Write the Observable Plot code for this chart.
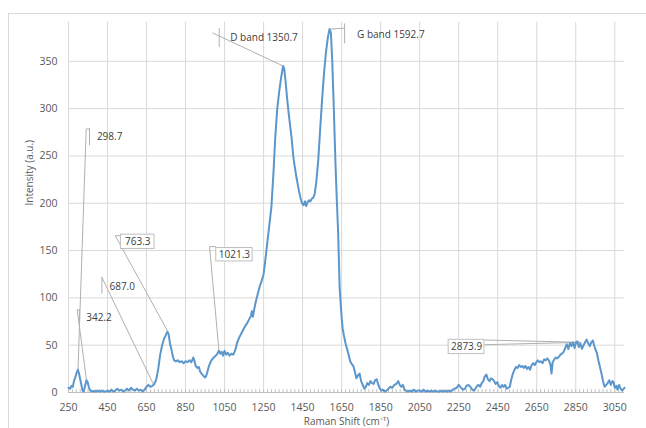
<!DOCTYPE html>
<html><head><meta charset="utf-8">
<script src="https://cdn.jsdelivr.net/npm/d3@7"></script>
<script src="https://cdn.jsdelivr.net/npm/@observablehq/plot@0.6"></script>
<style>
html,body{margin:0;padding:0;background:#fff;overflow:hidden;}
#wrap{position:relative;width:646px;height:428px;overflow:hidden;}
#border{position:absolute;left:8px;top:13px;width:700px;height:500px;border:1px solid #d9d9d9;box-sizing:border-box;}
#chart{position:absolute;left:0;top:0;}
</style></head><body>
<div id="wrap"><div id="border"></div><div id="chart"></div></div>
<script>
// Raman spectrum
const shift = [250,258,265,272,278,285,292,298,304,310,316,322,328,334,342,348,355,362,370,380,390,400,
410,420,430,440,450,460,470,480,490,500,510,520,530,540,550,560,570,580,590,600,610,620,630,640,650,660,670,680,690,
700,710,720,730,740,748,756,763,770,778,785,792,800,810,820,830,840,850,860,870,880,890,896,902,910,918,925,932,940,948,955,962,970,980,990,
1000,1010,1021,1028,1035,1042,1050,1058,1066,1075,1085,1095,1105,1115,1125,1135,1145,1155,1165,1175,1185,1190,1195,1202,1210,1220,1230,1240,1250,1260,1270,1280,1290,
1300,1310,1320,1330,1340,1350,1356,1362,1370,1378,1386,1394,1402,1410,1418,1425,1432,1440,1447,1455,1462,1468,1475,1482,1490,1498,1505,1512,1520,1530,1540,1550,1560,1570,1580,1588,1595,
1602,1610,1618,1625,1632,1640,1648,1655,1662,1670,1678,1686,1694,1702,1710,1718,1726,1734,1742,1750,1758,1766,1774,1782,1790,1798,1806,1814,1822,1830,1838,1846,1854,1862,1870,1880,1890,
1900,1910,1920,1930,1940,1948,1956,1964,1972,1980,1990,2000,2010,2020,2030,2040,2050,2060,2070,2080,2090,2100,2110,2120,2130,2140,2150,2160,2170,2180,2190,2200,2210,2220,2230,2240,
2250,2258,2266,2274,2282,2290,2300,2310,2320,2328,2336,2344,2352,2360,2368,2376,2384,2392,2400,2408,2416,2424,2432,2440,2448,2456,2464,2472,2480,2488,2496,2504,2512,2520,2528,2536,2544,2552,2560,2568,2576,2584,2592,
2600,2608,2616,2624,2632,2640,2648,2656,2664,2672,2680,2688,2696,2704,2712,2720,2726,2732,2740,2748,2756,2764,2772,2780,2788,2796,2804,2812,2820,2828,2836,2844,2852,2858,2866,2874,2882,2890,2898,
2906,2914,2922,2930,2938,2944,2950,2958,2966,2974,2982,2990,2998,3006,3014,3022,3030,3038,3044,3050,3058,3064,3072,3080,3088,3096,3100];
const intensity = [5,4,7,6,12,16,21,24,20,14,8,2,1,6,13,11,5,2,1,1.5,1,2,
1,2,1,1,2,1,3,1,2,4,2,3,1,2,4,2,5,3,2,4,2,3,1,3,6,8,6,7,9,
14,25,40,50,57,60,64,62,52,45,38,34,33,34,32,33,31,33,32,34,32,37,33,28,26,27,22,20,18,16,17,22,28,33,36,
38,40,44,41,43,39,44,40,42,39,41,40,45,53,58,62,66,70,73,77,81,86,80,88,96,104,112,118,125,142,160,178,196,
230,270,300,318,333,345,342,330,312,296,282,268,250,238,228,220,212,205,200,198,202,197,201,203,202,205,206,210,222,245,278,310,338,360,376,384,380,
350,300,245,205,170,110,85,68,60,52,46,40,33,30,28,22,15,18,20,12,8,4,6,10,8,12,10,9,13,14,8,4,2,3,1,2,4,
6,5,8,9,12,8,6,8,3,2,1,2,1,3,1,2,2,1,3,1,2,1,2,1,2,1,1,2,1,2,1,2,1,3,4,5,
8,6,4,3,4,7,8,6,3,2,4,7,8,6,10,12,17,19,14,12,15,14,12,9,11,7,5,8,6,8,4,5,6,14,20,24,27,26,29,27,28,26,28,
25,27,24,29,31,29,32,34,32,33,31,35,34,36,34,30,20,32,35,37,36,38,40,41,43,47,51,46,52,49,53,47,53,54,48,52,46,50,53,
56,52,49,53,55,50,46,42,34,27,20,12,6,8,10,13,8,12,11,5,7,3,8,4,2,4,5];

const xTicks = d3.range(250, 3051, 200);
const yTicks = [0, 50, 100, 150, 200, 250, 300, 350];
const minorTicks = d3.range(250, 3100, 20);

// peak annotations (label text, data point)
const peakLabels = ["298.7", "342.2", "687.0", "763.3", "1021.3", "D band 1350.7", "G band 1592.7", "2873.9"];
const peakX = [298.7, 342.2, 687.0, 763.3, 1021.3, 1350.7, 1592.7, 2873.9];
const peakY = [24, 13, 8, 63, 44, 345, 384, 53];
const boxed = [false, false, false, true, true, false, false, true];

const rows = shift.map((s, i) => ({shift: s, intensity: intensity[i]}));

// label placement (data units)
const labelX = [395.6, 340.8, 460, 604.9, 1100.8, 1079, 1729, 2290.5];
const labelY = [270.4, 79.3, 111.8, 159.4, 145.6, 374.5, 377.9, 48.1];
const elbowX = [340.8, 294.6, 421.3, 489.5, 973, 988.5, 1665.4, null];
const elbowY = [278.5, 87.4, 121.6, 165.7, 154.1, 380, 385, null];
const leaders = peakLabels.map((t, i) => ({t, x1: peakX[i], y1: peakY[i], x2: elbowX[i], y2: elbowY[i]})).filter(d => d.x2 != null);
const connectors = [
  {x1: 340.8, x2: 357.7, y1: 278.5, y2: 278.5},
  {x1: 294.6, x2: 306.4, y1: 87.4, y2: 87.4},
  {x1: 489.5, x2: 518.7, y1: 165.7, y2: 165.7},
  {x1: 973, x2: 1007.5, y1: 154.1, y2: 154.1},
  {x1: 2381.8, x2: 2873.9, y1: 55.5, y2: 53},
  {x1: 2381.8, x2: 2873.9, y1: 50.5, y2: 53}
];
const brackets = [
  {x: 357.7, y1: 260.8, y2: 278.8},
  {x: 306.4, y1: 73.6, y2: 87.4},
  {x: 421.3, y1: 104, y2: 121.6},
  {x: 1022.8, y1: 364.5, y2: 384.6},
  {x: 1665.4, y1: 368.4, y2: 389.5}
];
const boxes = [
  {x1: 518.7, x2: 691, y1: 151.6, y2: 166.8},
  {x1: 1007.5, x2: 1193.6, y1: 138.5, y2: 152.7},
  {x1: 2198.7, x2: 2381.8, y1: 40.6, y2: 55.7}
];
const labels = peakLabels.map((t, i) => ({t, x: labelX[i], y: labelY[i], boxed: boxed[i]}));

const chart = Plot.plot({
  width: 646, height: 428,
  marginLeft: 68, marginRight: 22, marginTop: 22, marginBottom: 36,
  style: {fontFamily: "'Open Sans', sans-serif", fontSize: "10.5px", color: "#595959", background: "transparent", overflow: "visible"},
  x: {domain: [250, 3100]},
  y: {domain: [0, 391]},
  marks: [
    Plot.gridX(xTicks, {stroke: "#d9d9d9", strokeOpacity: 1}),
    Plot.gridY(yTicks.filter(v => v > 0), {stroke: "#d9d9d9", strokeOpacity: 1}),
    Plot.ruleY([0], {stroke: "#bfbfbf"}),
    Plot.ruleX(minorTicks, {x: d => d, y1: 0, y2: 3, stroke: "#bfbfbf"}),
    Plot.axisX(xTicks, {tickSize: 0, tickPadding: 11, label: null, tickFormat: d => String(d)}),
    Plot.axisY(yTicks, {tickSize: 0, tickPadding: 11, label: null, tickFormat: d => String(d)}),
    Plot.link(leaders, {x1: "x1", y1: "y1", x2: "x2", y2: "y2", stroke: "#b0b0b0", strokeWidth: 1}),
    Plot.link(connectors, {x1: "x1", y1: "y1", x2: "x2", y2: "y2", stroke: "#b0b0b0", strokeWidth: 1}),
    Plot.ruleX(brackets, {x: "x", y1: "y1", y2: "y2", stroke: "#b0b0b0", strokeWidth: 1}),
    Plot.line(rows, {x: "shift", y: "intensity", stroke: "#5b97cc", strokeWidth: 2, strokeLinejoin: "round"}),
    Plot.rect(boxes, {x1: "x1", x2: "x2", y1: "y1", y2: "y2", fill: "white", stroke: "#bfbfbf", strokeWidth: 1}),
    Plot.text(labels.filter(d => !d.boxed), {x: "x", y: "y", text: "t", textAnchor: "start", fill: "#404040", fontSize: 10}),
    Plot.text(labels.filter(d => d.boxed), {x: "x", y: "y", text: "t", textAnchor: "middle", fill: "#404040", fontSize: 10}),
    Plot.text(["Intensity (a.u.)"], {frameAnchor: "left", dx: -39, dy: -2, rotate: -90, fontSize: 10, fill: "#595959"}),
    Plot.text(["Raman Shift (cm\u207B\u00B9)"], {frameAnchor: "bottom", dy: 32, fontSize: 10, fill: "#595959"})
  ]
});
document.getElementById("chart").appendChild(chart);
</script>
</body></html>
